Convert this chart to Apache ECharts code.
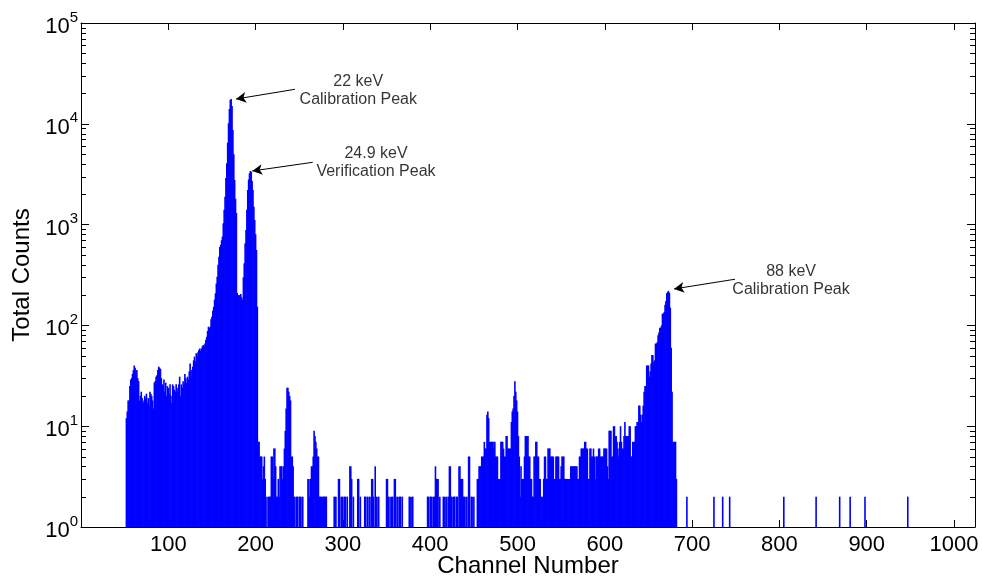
<!DOCTYPE html>
<html>
<head>
<meta charset="utf-8">
<script src="https://cdn.jsdelivr.net/npm/echarts@6/dist/echarts.min.js"></script>
<style>
html,body{margin:0;padding:0;background:#fff;}
#chart{width:982px;height:578px;}
</style>
</head>
<body>
<div id="chart"></div>
<script>
// ---- data ----
const chStart = 52; // first channel of the counts array
const counts = [
  12, 14, 18, 18, 25, 29, 30, 33, 36, 40,
  38, 35, 36, 30, 28, 18, 20, 22, 19, 18,
  17, 20, 19, 21, 17, 19, 16, 22, 21, 20,
  18, 15, 27, 28, 31, 32, 36, 39, 38, 37,
  30, 26, 25, 29, 22, 27, 20, 25, 24, 21,
  26, 20, 17, 26, 25, 23, 22, 26, 24, 22,
  26, 31, 20, 26, 24, 28, 26, 33, 30, 27,
  31, 29, 35, 42, 31, 36, 39, 45, 49, 44,
  53, 50, 54, 57, 59, 56, 59, 62, 64, 62,
  66, 72, 77, 88, 97, 94, 97, 115, 122, 140,
  153, 180, 208, 260, 304, 400, 480, 600, 630, 700,
  760, 1030, 1400, 1890, 2900, 4060, 6500, 10100, 14000, 17200,
  17600, 15000, 8700, 5000, 2770, 1800, 1300, 210, 200, 195,
  200, 205, 190, 180, 300, 413, 650, 884, 1400, 2200,
  2800, 3230, 3400, 3350, 2700, 2200, 1500, 1110, 800, 560,
  153, 7, 7, 5, 5, 5, 3, 4, 5, 3,
  1, 2, 1, 2, 2, 2, 5, 5, 3, 6,
  6, 4, 2, 2, 3, 2, 4, 4, 4, 3,
  4, 6, 9, 15, 24, 24, 22, 20, 18, 5,
  5, 4, 2, 2, 1, 2, 2, 1, 2, 2,
  2, 1, 2, 1, 1, 1, 1, 1, 3, 3,
  2, 3, 4, 4, 5, 9, 8, 7, 6, 5,
  5, 2, 2, 2, 2, 2, 2, 2, 2, 2,
  1, 1, 1, 1, 1, 1, 1, 1, 2, 2,
  2, 1, 1, 3, 3, 1, 2, 2, 2, 1,
  2, 2, 1, 2, 1, 1, 4, 4, 3, 1,
  2, 1, 1, 1, 1, 3, 3, 1, 2, 1,
  1, 1, 1, 2, 2, 1, 2, 1, 2, 2,
  1, 3, 3, 2, 1, 4, 2, 2, 1, 2,
  1, 1, 1, 1, 1, 1, 1, 1, 3, 3,
  2, 1, 2, 1, 2, 2, 1, 3, 3, 1,
  2, 2, 1, 2, 2, 1, 2, 1, 1, 1,
  1, 1, 1, 1, 2, 2, 1, 2, 2, 1,
  1, 1, 1, 1, 1, 1, 1, 1, 1, 1,
  1, 1, 1, 1, 1, 2, 2, 1, 2, 2,
  2, 1, 2, 2, 4, 3, 3, 3, 1, 2,
  1, 1, 1, 2, 2, 1, 2, 2, 1, 2,
  4, 4, 2, 2, 1, 2, 2, 1, 2, 2,
  1, 4, 4, 3, 3, 3, 2, 2, 1, 2,
  2, 1, 5, 5, 1, 2, 2, 1, 2, 1,
  1, 1, 3, 3, 4, 4, 4, 5, 5, 5,
  7, 6, 6, 13, 14, 12, 7, 7, 7, 7,
  7, 6, 7, 5, 5, 5, 3, 3, 3, 7,
  7, 7, 6, 5, 5, 8, 8, 6, 6, 6,
  6, 11, 14, 15, 20, 28, 22, 18, 14, 8,
  5, 2, 4, 3, 3, 3, 5, 8, 8, 8,
  8, 5, 5, 3, 3, 2, 2, 5, 5, 7,
  7, 5, 5, 3, 3, 2, 2, 2, 3, 5,
  5, 3, 3, 6, 6, 6, 5, 5, 5, 5,
  3, 3, 5, 5, 5, 5, 3, 3, 4, 5,
  5, 5, 3, 3, 3, 3, 3, 3, 3, 4,
  4, 4, 4, 4, 4, 4, 4, 3, 3, 5,
  5, 6, 6, 6, 6, 7, 7, 6, 6, 3,
  3, 6, 6, 5, 5, 6, 5, 3, 5, 5,
  5, 6, 6, 5, 5, 5, 5, 6, 6, 6,
  6, 4, 3, 9, 9, 9, 5, 5, 10, 10,
  8, 8, 7, 6, 5, 7, 10, 7, 6, 6,
  8, 11, 8, 8, 8, 8, 10, 10, 5, 5,
  7, 7, 7, 10, 10, 11, 11, 16, 16, 13,
  11, 13, 16, 22, 25, 25, 40, 40, 40, 31,
  35, 42, 51, 51, 43, 45, 66, 66, 68, 80,
  85, 95, 95, 100, 130, 132, 135, 160, 175, 208,
  215, 220, 210, 150, 60, 22, 7, 7, 7, 7,
  3
];
const sparseChannels = [694, 725, 735, 743, 805, 842, 869, 881, 898, 947];
const sparseCounts   = [2, 2, 2, 2, 2, 2, 2, 2, 2, 2];

const xTickValues = [100, 200, 300, 400, 500, 600, 700, 800, 900, 1000];
const yMinorTicks = [2,3,4,5,6,7,8,9, 20,30,40,50,60,70,80,90, 200,300,400,500,600,700,800,900,
  2000,3000,4000,5000,6000,7000,8000,9000, 20000,30000,40000,50000,60000,70000,80000,90000];

const noteTexts = ['22 keV\nCalibration Peak', '24.9 keV\nVerification Peak', '88 keV\nCalibration Peak'];
const notePos   = [[317.6, 21400], [337.9, 4085], [813.3, 280]];
const arrowFrom = [[245.1, 21990], [265.4, 4150], [749.1, 287]];
const arrowTo   = [[177.6, 17620], [196.2, 3404], [679.3, 230]];

// ---- build ----
const FONT = "'Liberation Sans', Arial, Helvetica, sans-serif";
const barData = [];
counts.forEach((v, i) => barData.push([chStart + i, v]));
sparseChannels.forEach((c, i) => barData.push([c, sparseCounts[i]]));

const chart = echarts.init(document.getElementById('chart'), null, {renderer: 'canvas'});
const yLabelFmt = v => '{b|10}{s|' + Math.round(Math.log10(v)) + '}';

const option = {
  animation: false,
  backgroundColor: '#fff',
  grid: {left: 81, right: 7, top: 23, bottom: 51, containLabel: false, outerBoundsMode: 'none'},
  xAxis: [
    {
      type: 'value', min: 0, max: 1024, interval: 100, position: 'bottom',
      name: 'Channel Number', nameLocation: 'middle', nameGap: 27, nameMoveOverlap: false,
      nameTextStyle: {fontFamily: FONT, fontSize: 24, color: '#000'},
      axisLine: {show: true, lineStyle: {color: '#000', width: 1}},
      axisTick: {show: true, inside: true, length: 7, lineStyle: {color: '#000'}},
      axisLabel: {show: true, showMinLabel: false, showMaxLabel: false, margin: 7,
        fontFamily: FONT, fontSize: 22, color: '#000',
        formatter: v => (xTickValues.indexOf(v) >= 0 ? String(v) : '')},
      splitLine: {show: false}
    },
    {
      type: 'value', min: 0, max: 1024, interval: 100, position: 'top',
      axisLine: {show: true, onZero: false, lineStyle: {color: '#000', width: 1}},
      axisTick: {show: true, inside: true, length: 7, lineStyle: {color: '#000'}},
      axisLabel: {show: false}, splitLine: {show: false}
    }
  ],
  yAxis: [
    {
      type: 'log', logBase: 10, min: 1, max: 100000, position: 'left',
      name: 'Total Counts', nameLocation: 'middle', nameGap: 47, nameMoveOverlap: false,
      nameTextStyle: {fontFamily: FONT, fontSize: 24, color: '#000'},
      axisLine: {show: true, lineStyle: {color: '#000', width: 1}},
      axisTick: {show: true, inside: true, length: 8, lineStyle: {color: '#000'}},
      axisLabel: {show: true, margin: 3, formatter: yLabelFmt, color: '#000',
        rich: {
          b: {fontFamily: FONT, fontSize: 22, color: '#000', lineHeight: 34, verticalAlign: 'middle', padding: [8, 0, 0, 0]},
          s: {fontFamily: FONT, fontSize: 15, color: '#000', lineHeight: 15, verticalAlign: 'top', padding: [4, 0, 0, 0]}
        }},
      splitLine: {show: false}
    },
    {
      type: 'log', logBase: 10, min: 1, max: 100000, position: 'right',
      axisLine: {show: true, onZero: false, lineStyle: {color: '#000', width: 1}},
      axisTick: {show: true, inside: true, length: 8, lineStyle: {color: '#000'}},
      axisLabel: {show: false}, splitLine: {show: false}
    }
  ],
  series: [
    {
      type: 'bar', name: 'counts', xAxisIndex: 0, yAxisIndex: 0,
      data: barData, barWidth: 1.6, barGap: '-100%',
      itemStyle: {color: '#0000ff'},
      emphasis: {disabled: true},
      clip: true,
      markLine: {
        silent: true, animation: false,
        symbol: ['none', 'arrow'], symbolSize: [8, 10],
        label: {show: false},
        lineStyle: {color: '#000', width: 1, type: 'solid'},
        data: arrowFrom.map((f, i) => [{coord: f}, {coord: arrowTo[i]}])
      }
    },
    {
      type: 'scatter', name: 'notes', xAxisIndex: 0, yAxisIndex: 0,
      symbolSize: 0, silent: true,
      itemStyle: {color: '#000'},
      data: notePos.map((p, i) => ({value: p, name: noteTexts[i]})),
      label: {show: true, position: 'inside', formatter: p => p.name,
        fontFamily: FONT, fontSize: 16, lineHeight: 18, color: '#000', align: 'center',
        textBorderWidth: 0, textShadowBlur: 0}
    },
    {
      type: 'custom', name: 'minorTicks', xAxisIndex: 0, yAxisIndex: 0, silent: true,
      data: yMinorTicks.map(v => [0, v]),
      encode: {x: 0, y: 1},
      clip: false,
      renderItem: function (params, api) {
        const cs = params.coordSys;
        const y = Math.round(api.coord([0, api.value(1)])[1]) + 0.5;
        const st = {stroke: '#000', lineWidth: 1};
        return {type: 'group', children: [
          {type: 'line', shape: {x1: cs.x, y1: y, x2: cs.x + 5, y2: y}, style: st},
          {type: 'line', shape: {x1: cs.x + cs.width - 5, y1: y, x2: cs.x + cs.width, y2: y}, style: st}
        ]};
      }
    }
  ]
};
chart.setOption(option);
</script>
</body>
</html>
